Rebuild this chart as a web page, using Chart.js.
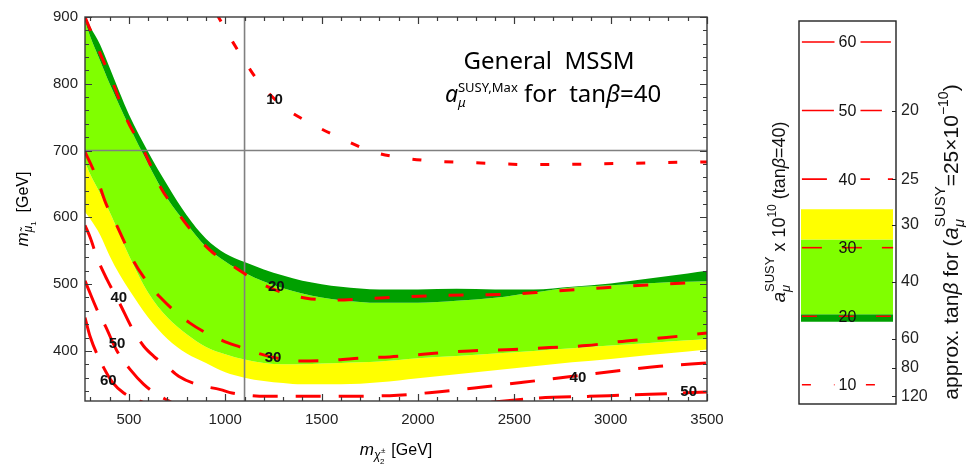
<!DOCTYPE html>
<html>
<head>
<meta charset="utf-8">
<script src="https://cdn.jsdelivr.net/npm/chart.js@4"></script>
<style>
  body { margin: 0; background: #fff; }
  #wrap { position: relative; width: 966px; height: 465px; }
  #main { position: absolute; left: 0; top: 0; }
  #side { position: absolute; left: 740px; top: 0; }
</style>
</head>
<body>
<div id="wrap">
  <canvas id="main" width="740" height="465"></canvas>
  <canvas id="side" width="226" height="465"></canvas>
</div>
<script>
// band boundaries, m_mu [GeV] vs m_chi [GeV]
const bandX     = [272, 300, 350, 400, 450, 500, 600, 700, 800, 900, 1000, 1100, 1200, 1300, 1400, 1500, 1600, 1800, 2000, 2200, 2400, 2600, 2800, 3000, 3200, 3400, 3500];
const darkTop   = [902, 885, 859, 824, 788, 754, 698, 648, 603, 568, 546, 533, 522, 513, 505, 500, 496, 492, 492, 493, 492, 492, 496, 501, 508.5, 516, 520];
const darkBot   = [894, 870, 835, 800, 768, 737, 680, 628, 590, 556, 534, 517, 504, 494, 486, 480, 476, 472, 472, 475, 479.5, 487.5, 495, 498.5, 501.5, 503.5, 504.5];
const lightBot  = [683, 664, 636, 608, 575, 543, 487, 450, 425, 406, 395, 387, 382, 380, 380, 381, 382, 384, 389, 392.5, 396, 400, 404, 408, 412, 416, 418];
const yellowBot = [608, 597, 574, 542, 515, 492, 450, 418, 396, 382, 368, 360, 355, 352, 350, 350, 350, 353, 359, 365, 371, 377, 383, 388, 394, 399, 402];

// contours of a_mu^SUSY x 10^10
const c10x = [955, 992, 1040, 1100, 1179, 1300, 1455, 1611, 1767, 1923, 2096, 2269, 2597, 2926, 3272, 3500];
const c10y = [905, 886, 862, 834, 801, 766, 739, 717, 698, 689, 684, 682, 679, 680, 682, 683];
const c20x = [272, 348, 417, 487, 582, 668, 729, 833, 936, 1040, 1179, 1300, 1421, 1560, 1715, 1922, 2113, 2303, 2493, 2683, 2891, 3081, 3272, 3500];
const c20y = [900, 847, 801, 748, 697, 643, 617, 577, 547, 527, 502, 487, 479, 476, 478, 481, 483, 484, 485, 489, 493, 497, 500, 503];
const c30x = [272, 314, 348, 383, 417, 486, 521, 573, 660, 815, 988, 1075, 1213, 1386, 1550, 1732, 1853, 2026, 2268, 2493, 2683, 2874, 3081, 3289, 3500];
const c30y = [698, 672, 647, 619, 600, 557, 536, 512, 481, 442, 415, 406, 393, 385, 386, 390, 391, 395, 400, 402, 405, 408, 415, 420, 427];
const c40x = [272, 300, 334, 386, 447, 520, 577, 629, 700, 758, 850, 975, 1035, 1213, 1490, 1853, 2113, 2337, 2545, 2804, 3029, 3254, 3500];
const c40y = [588, 569, 540, 507, 474, 432, 407, 392, 376, 362, 350, 342, 337, 332, 332, 333, 339, 346, 353, 362, 370, 377, 382];
const c50x = [272, 334, 378, 438, 507, 577, 650, 700, 740, null, 2380, 2630, 2891, 3202, 3500];
const c50y = [505, 462, 437, 400, 372, 350, 334, 326, 320, null, 323, 329.5, 332, 335, 338.5];
const c60x = [272, 298, 348, 417, 473, 556, 590];
const c60y = [450, 422, 387, 352, 337, 325, 321];

const labelText = ['10', '20', '30', '40', '50', '60', '40', '50'];
const labelX = [1256, 1265, 1248, 447, 438, 393, 2830, 3405];
const labelY = [776, 496, 390, 480, 410, 355, 360, 339];

const refX = 1100;
const refY = 700;
const xTicks = [500, 1000, 1500, 2000, 2500, 3000, 3500];
const yTicks = [400, 500, 600, 700, 800, 900];

// side panel
const panelLevels = [10, 20, 30, 40, 50, 60];
const panelEdges = [35.6, 31.2, 20.3, 19.2];
const tanbTicks = [20, 25, 30, 40, 60, 80, 120];
const aRef = 25, tanbRef = 40;

const XMIN = 272, XMAX = 3500, YMIN = 325, YMAX = 900;
const DARK = '#00a000', LIGHT = '#80ff00', YEL = '#ffff00', RED = '#ff0000';
const dashFor = { 10: [9, 23], 20: [15, 22], 30: [20, 20], 40: [25, 18], 50: [32, 16], 60: [37, 15] };
const SANS = '"Liberation Sans", Arial, sans-serif';
const TXT = '"Noto Sans", "Open Sans", sans-serif';

const pts = (xs, ys) => xs.map((x, i) => ({ x: x === null ? 1500 : x, y: ys[i] }));

// rich text: segments {t, size, dy, dx, it, w (advance override)}
function segFont(s, fam) { return `${s.it ? 'italic ' : ''}${s.size}px ${s.fam || fam}`; }
function segAdv(ctx, s, fam) {
  if (s.w !== undefined) return s.w;
  ctx.font = segFont(s, fam);
  return ctx.measureText(s.t).width;
}
function drawRich(ctx, segs, x, y, fam, align) {
  const total = segs.reduce((w, s) => w + segAdv(ctx, s, fam), 0);
  let cx = align === 'center' ? x - total / 2 : x;
  ctx.textBaseline = 'alphabetic';
  ctx.textAlign = 'left';
  segs.forEach(s => {
    ctx.font = segFont(s, fam);
    ctx.fillText(s.t, cx + (s.dx || 0), y + (s.dy || 0));
    cx += segAdv(ctx, s, fam);
  });
}

const band = (ys, color, fill) => ({
  data: pts(bandX, ys), fill: fill ? '+1' : false, backgroundColor: color,
  borderWidth: 0, pointRadius: 0, cubicInterpolationMode: 'monotone', order: 10
});
const contour = (xs, ys, lvl) => ({
  data: pts(xs, ys), fill: false, borderColor: RED, borderWidth: 3, borderDash: dashFor[lvl],
  pointRadius: 0, cubicInterpolationMode: 'monotone', spanGaps: false, order: 1
});
const gray = (data) => ({ data, borderColor: '#808080', borderWidth: 1.6, pointRadius: 0, fill: false, order: 5 });

const mainDecor = {
  id: 'mainDecor',
  afterDatasetsDraw(chart) {
    const { ctx, chartArea: a, scales: { x, y } } = chart;
    ctx.save();
    ctx.strokeStyle = '#3a3a3a';
    ctx.lineWidth = 1.2;
    ctx.beginPath();
    for (let v = 300; v <= XMAX; v += 100) {
      const len = v % 500 === 0 ? 7 : 4, p = Math.round(x.getPixelForValue(v)) + 0.5;
      ctx.moveTo(p, a.bottom); ctx.lineTo(p, a.bottom - len);
      ctx.moveTo(p, a.top); ctx.lineTo(p, a.top + len);
    }
    for (let v = 340; v <= YMAX; v += 20) {
      const len = v % 100 === 0 ? 7 : 4, p = Math.round(y.getPixelForValue(v)) + 0.5;
      ctx.moveTo(a.left, p); ctx.lineTo(a.left + len, p);
      ctx.moveTo(a.right, p); ctx.lineTo(a.right - len, p);
    }
    ctx.stroke();
    ctx.lineWidth = 1.4;
    ctx.strokeRect(a.left, a.top, a.right - a.left, a.bottom - a.top);

    ctx.fillStyle = '#111';
    ctx.font = `bold 15px ${SANS}`;
    ctx.textAlign = 'center';
    ctx.textBaseline = 'middle';
    labelText.forEach((t, i) => ctx.fillText(t, x.getPixelForValue(labelX[i]), y.getPixelForValue(labelY[i])));

    ctx.fillStyle = '#000';
    drawRich(ctx, [{ t: 'General  MSSM', size: 24 }], 549, 69, TXT, 'center');
    drawRich(ctx, [
      { t: 'a', size: 23, it: true },
      { t: 'μ', size: 13, it: true, dy: 5, w: 0 },
      { t: 'SUSY,Max', size: 13, dy: -10 },
      { t: ' for  tan', size: 24 },
      { t: 'β', size: 24, it: true },
      { t: '=40', size: 24 }
    ], 553, 102, TXT, 'center');

    // axis titles
    drawRich(ctx, [
      { t: 'm', size: 17, it: true },
      { t: 'χ', size: 12, it: true, dy: 4, w: 0 },
      { t: '±', size: 8, dy: -2, dx: 7, w: 0 },
      { t: '2', size: 8, dy: 9, dx: 6, w: 13 },
      { t: ' [GeV]', size: 16 }
    ], 396, 455, SANS, 'center');
    ctx.save();
    ctx.translate(28, 209);
    ctx.rotate(-Math.PI / 2);
    drawRich(ctx, [
      { t: 'm', size: 17, it: true },
      { t: 'μ̃', size: 12, it: true, dy: 4 },
      { t: '1', size: 8, dy: 8 },
      { t: '  [GeV]', size: 16 }
    ], 0, 0, SANS, 'center');
    ctx.restore();
    ctx.restore();
  }
};

new Chart(document.getElementById('main'), {
  type: 'line',
  data: {
    datasets: [
      band(darkTop, DARK, true),
      band(darkBot, LIGHT, true),
      band(lightBot, YEL, true),
      band(yellowBot, 'transparent', false),
      gray([{ x: refX, y: YMIN - 50 }, { x: refX, y: YMAX + 50 }]),
      gray([{ x: XMIN - 100, y: refY }, { x: XMAX + 100, y: refY }]),
      contour(c10x, c10y, 10),
      contour(c20x, c20y, 20),
      contour(c30x, c30y, 30),
      contour(c40x, c40y, 40),
      contour(c50x, c50y, 50),
      contour(c60x, c60y, 60)
    ]
  },
  options: {
    responsive: false,
    animation: false,
    layout: { padding: { left: 0, right: 33, top: 17, bottom: 0 } },
    plugins: { legend: { display: false }, tooltip: { enabled: false } },
    scales: {
      x: {
        type: 'linear', min: XMIN, max: XMAX,
        grid: { display: false, drawTicks: false }, border: { display: false },
        afterBuildTicks: s => { s.ticks = xTicks.map(v => ({ value: v })); },
        afterFit: s => { s.height = 64; },
        ticks: { font: { size: 15, family: SANS }, color: '#222', padding: 10, maxRotation: 0, callback: v => String(v) }
      },
      y: {
        type: 'linear', min: YMIN, max: YMAX,
        grid: { display: false, drawTicks: false }, border: { display: false },
        afterBuildTicks: s => { s.ticks = yTicks.map(v => ({ value: v })); },
        afterFit: s => { s.width = 85; },
        ticks: { font: { size: 15, family: SANS }, color: '#222', padding: 7, callback: v => String(v) }
      }
    }
  },
  plugins: [mainDecor]
});

// side panel
const sideDecor = {
  id: 'sideDecor',
  afterDatasetsDraw(chart) {
    const { ctx, chartArea: a, scales: { x, y } } = chart;
    ctx.save();
    ctx.font = `16px ${SANS}`;
    ctx.textAlign = 'center';
    ctx.textBaseline = 'middle';
    const cx = x.getPixelForValue(0.5);
    panelLevels.forEach(l => {
      const py = y.getPixelForValue(l);
      if (l > panelEdges[0] || l < panelEdges[3]) {
        ctx.fillStyle = '#fff';
        ctx.fillRect(cx - 13, py - 6, 26, 12);
      }
      ctx.fillStyle = '#111';
      ctx.fillText(String(l), cx, py + 1);
    });
    ctx.strokeStyle = '#222';
    ctx.lineWidth = 1.2;
    ctx.beginPath();
    tanbTicks.forEach(t => {
      const py = Math.round(y.getPixelForValue(aRef * tanbRef / t)) + 0.5;
      ctx.moveTo(a.right, py); ctx.lineTo(a.right - 4, py);
    });
    ctx.stroke();
    ctx.lineWidth = 1.4;
    ctx.strokeRect(a.left, a.top, a.right - a.left, a.bottom - a.top);

    ctx.fillStyle = '#111';
    ctx.save();
    ctx.translate(45, 212);
    ctx.rotate(-Math.PI / 2);
    drawRich(ctx, [
      { t: 'a', size: 19, it: true },
      { t: 'μ', size: 13, it: true, dy: 5, w: 0 },
      { t: 'SUSY', size: 13, dy: -11 },
      { t: ' x 10', size: 18 },
      { t: '10', size: 12, dy: -9 },
      { t: ' (tan', size: 18 },
      { t: 'β', size: 18, it: true },
      { t: '=40)', size: 18 }
    ], 0, 0, SANS, 'center');
    ctx.restore();
    ctx.save();
    ctx.translate(218, 242);
    ctx.rotate(-Math.PI / 2);
    drawRich(ctx, [
      { t: 'approx. tan', size: 21 },
      { t: 'β', size: 21, it: true },
      { t: ' for (', size: 21 },
      { t: 'a', size: 22, it: true },
      { t: 'μ', size: 15, it: true, dy: 6, w: 0 },
      { t: 'SUSY', size: 15, dy: -13 },
      { t: '=25×10', size: 21 },
      { t: '−10', size: 14, dy: -10 },
      { t: ')', size: 21 }
    ], 0, 0, SANS, 'center');
    ctx.restore();
    ctx.restore();
  }
};

const panelColors = [YEL, LIGHT, DARK, 'transparent'];
const sideSets = panelEdges.map((v, i) => ({
  data: [{ x: 0.02, y: v }, { x: 0.97, y: v }],
  fill: i < panelEdges.length - 1 ? '+1' : false,
  backgroundColor: panelColors[i], borderWidth: 0, pointRadius: 0, order: 10
}));
panelLevels.forEach(l => sideSets.push({
  data: [{ x: 0.03, y: l }, { x: 0.97, y: l }],
  borderColor: RED, borderWidth: 1.6, borderDash: dashFor[l], pointRadius: 0, fill: false, order: 1
}));

new Chart(document.getElementById('side'), {
  type: 'line',
  data: { datasets: sideSets },
  options: {
    responsive: false,
    animation: false,
    layout: { padding: { left: 0, right: 0, top: 21, bottom: 61 } },
    plugins: { legend: { display: false }, tooltip: { enabled: false } },
    scales: {
      x: { type: 'linear', min: 0, max: 1, display: false },
      y: {
        type: 'linear', min: 7.2, max: 63.06, position: 'left',
        grid: { display: false, drawTicks: false }, border: { display: false },
        ticks: { display: false },
        afterFit: s => { s.width = 59; }
      },
      y2: {
        type: 'linear', min: 7.2, max: 63.06, position: 'right',
        grid: { display: false, drawTicks: false }, border: { display: false },
        afterBuildTicks: s => { s.ticks = tanbTicks.map(t => ({ value: aRef * tanbRef / t })); },
        afterFit: s => { s.width = 70; },
        ticks: {
          font: { size: 16, family: SANS }, color: '#222', padding: 5,
          callback: (v, i) => String(tanbTicks[i])
        }
      }
    }
  },
  plugins: [sideDecor]
});
</script>
</body>
</html>
